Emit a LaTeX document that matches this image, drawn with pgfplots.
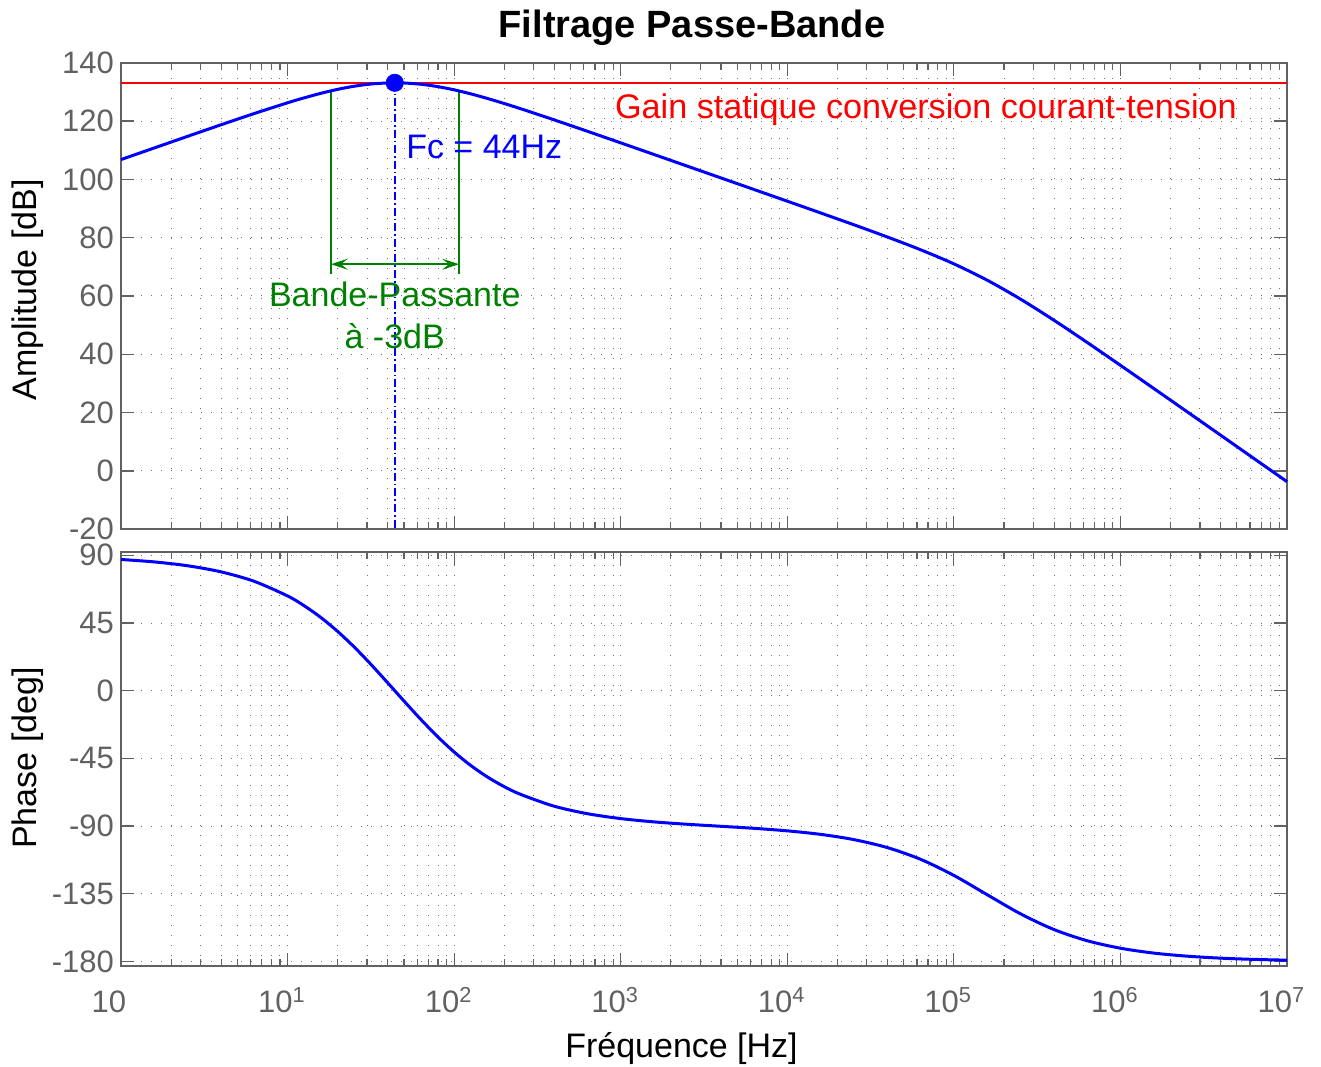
\documentclass[border=0pt]{standalone}
\usepackage{fontspec}
\setmainfont{Liberation Sans}
\usepackage{pgfplots}
\pgfplotsset{compat=1.18}
\usetikzlibrary{arrows.meta}
\definecolor{mgreen}{rgb}{0,0.5,0}
\definecolor{tickgray}{rgb}{0.38,0.38,0.38}
\pgfplotsset{
  every axis/.append style={
    scale only axis, width=583pt,
    anchor=south west, clip=false,
    tick align=inside,
    major tick length=6.5pt, minor tick length=3.5pt,
    axis line style={tickgray, line width=0.85pt},
    xmajorgrids, xminorgrids, ymajorgrids,
    major grid style={draw=black!55, line width=0.5pt, dash pattern=on 0.5pt off 4.5pt},
    minor grid style={draw=black!55, line width=0.5pt, dash pattern=on 0.5pt off 4.5pt},
    tick label style={font=\fontsize{15.5}{18}\selectfont, text=tickgray, inner ysep=0pt},
  },
  every tick/.append style={tickgray, line width=0.6pt},
}
\begin{document}
\begin{tikzpicture}
\useasboundingbox (0,0) rectangle (660.5pt,533pt);
% ---------------- Amplitude ----------------
\begin{axis}[xmode=log, xmin=1, xmax=1e7,
  xtick={1,10,100,1000,10000,100000,1000000,10000000},
  at={(60.5pt,268.35pt)}, height=233.3pt,
  ymin=-20, ymax=140, ytick={-20,0,20,40,60,80,100,120,140},
  yticklabels={-20,0,20,40,60,80,100,120,140},
  xticklabels={}]
\addplot[red, line width=1pt] coordinates {(1,133.1) (1e7,133.1)};
\addplot[blue, line width=0.75pt, dash pattern=on 4pt off 1.5pt on 0.8pt off 1.5pt] coordinates {(44,133.1) (44,-20)};
\addplot[mgreen, line width=0.8pt] coordinates {(18.2,130.3) (18.2,67.5)};
\addplot[mgreen, line width=0.8pt] coordinates {(107,130.3) (107,67.5)};
\addplot[mgreen, line width=0.8pt, arrows={Stealth[length=8.5pt,width=5.5pt,inset=3.5pt]-Stealth[length=8.5pt,width=5.5pt,inset=3.5pt]}] coordinates {(18.2,70.9) (107,70.9)};
\addplot[blue, line width=1.5pt, smooth] coordinates {
(1,106.78) (1.585,110.77) (2.512,114.75) (3.981,118.70) (6.310,122.57)
(10,126.25) (12.59,127.95) (15.85,129.50) (19.95,130.85) (25.12,131.93)
(31.62,132.69) (39.81,133.06) (44,133.10) (50.12,133.04) (63.10,132.61)
(79.43,131.81) (100,130.69) (125.9,129.31) (158.5,127.73) (199.5,126.02)
(251.2,124.20) (398.1,120.40) (631.0,116.48) (1000,112.51) (1585,108.52)
(2512,104.52) (3981,100.52) (6310,96.52) (1e4,92.51) (1.585e4,88.48)
(2.512e4,84.42) (3.981e4,80.25) (6.310e4,75.86) (1e5,71.02) (1.585e5,65.42)
(2.512e5,58.93) (3.981e5,51.72) (6.310e5,44.08) (1e6,36.23) (1.585e6,28.29)
(2.512e6,20.32) (3.981e6,12.33) (6.310e6,4.33) (1e7,-3.67)};
\addplot[blue, only marks, mark=*, mark size=4.3pt] coordinates {(44,133.1)};
\node[inner sep=0pt, anchor=base east, text=red, font=\fontsize{17.1}{20}\selectfont] at (axis cs:5.02e6,120.7) {Gain statique conversion courant-tension};
\node[inner sep=0pt, anchor=base west, text=blue, font=\fontsize{17}{20}\selectfont] at (axis cs:51.3,107.3) {Fc = 44Hz};
\node[inner sep=0pt, anchor=base, text=mgreen, font=\fontsize{17}{20}\selectfont] at (axis cs:44,56.3) {Bande-Passante};
\node[inner sep=0pt, anchor=base, text=mgreen, font=\fontsize{17}{20}\selectfont] at (axis cs:44,42.1) {à -3dB};
\end{axis}
% ---------------- Phase ----------------
\begin{axis}[xmode=log, xmin=1, xmax=1e7,
  xtick={1,10,100,1000,10000,100000,1000000,10000000},
  at={(60.5pt,50.15pt)}, height=206.7pt,
  ymin=-182.8, ymax=92, ytick={-180,-135,-90,-45,0,45,90},
  yticklabels={-180,-135,-90,-45,0,45,90},
  xticklabels={10\phantom{\textsuperscript{0}},10\textsuperscript{1},10\textsuperscript{2},10\textsuperscript{3},10\textsuperscript{4},10\textsuperscript{5},10\textsuperscript{6},10\textsuperscript{7}},
  xticklabel style={anchor=base, yshift=-23.5pt, xshift=-2.8pt}]
\addplot[blue, line width=1.5pt, smooth] coordinates {
(1,87.23) (1.585,85.61) (2.512,83.05) (3.981,79.02) (6.310,72.70)
(10,62.98) (12.59,56.45) (15.85,48.64) (19.95,39.47) (25.12,29.04)
(31.62,17.55) (39.81,5.39) (44,0) (50.12,-6.99) (63.10,-19.09)
(79.43,-30.45) (100,-40.74) (125.9,-49.73) (158.5,-57.37) (199.5,-63.74)
(251.2,-68.96) (398.1,-76.76) (631.0,-81.75) (1000,-85.01) (1585,-87.21)
(2512,-88.79) (3981,-90.12) (6310,-91.48) (1e4,-93.16) (1.585e4,-95.50)
(2.512e4,-98.99) (3.981e4,-104.27) (6.310e4,-112.06) (1e5,-122.78) (1.585e5,-135.61)
(2.512e5,-148.30) (3.981e5,-158.72) (6.310e5,-166.19) (1e6,-171.18) (1.585e6,-174.42)
(2.512e6,-176.46) (3.981e6,-177.77) (6.310e6,-178.60) (1e7,-179.12)};
\end{axis}
% ---------------- Labels ----------------
\node[anchor=base, font=\fontsize{19}{22}\selectfont\bfseries] at (346pt,514pt) {Filtrage Passe-Bande};
\node[anchor=base, font=\fontsize{17}{20}\selectfont] at (340.75pt,4.5pt) {Fréquence [Hz]};
\node[rotate=90, anchor=base, font=\fontsize{17}{20}\selectfont] at (18pt,388pt) {Amplitude [dB]};
\node[rotate=90, anchor=base, font=\fontsize{17}{20}\selectfont] at (18pt,154pt) {Phase [deg]};
\end{tikzpicture}
\end{document}
